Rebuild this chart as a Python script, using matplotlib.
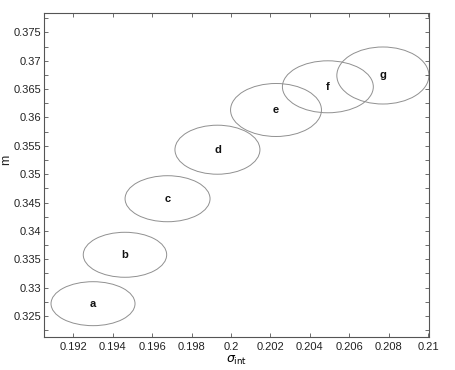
import numpy as np
import matplotlib
matplotlib.use("Agg")
import matplotlib.pyplot as plt
from matplotlib.patches import Ellipse

plt.rcParams['font.family'] = ['Liberation Sans', 'DejaVu Sans']

# confidence ellipses (center, width, height)
names = ['a', 'b', 'c', 'd', 'e', 'f', 'g']
sigma_c = [0.19300, 0.19462, 0.19678, 0.19931, 0.20228, 0.20491, 0.20770]
m_c = [0.32717, 0.33579, 0.34567, 0.35431, 0.36131, 0.36540, 0.36739]
widths = [0.00426, 0.00423, 0.00431, 0.00431, 0.00461, 0.00461, 0.00467]
heights = [0.00775, 0.00793, 0.00811, 0.00864, 0.00934, 0.00916, 0.01005]

xticks = [0.192, 0.194, 0.196, 0.198, 0.2, 0.202, 0.204, 0.206, 0.208, 0.21]
xticklabels = ['0.192', '0.194', '0.196', '0.198', '0.2', '0.202', '0.204',
               '0.206', '0.208', '0.21']
yticks = [0.325, 0.33, 0.335, 0.34, 0.345, 0.35, 0.355, 0.36, 0.365, 0.37, 0.375]
yticklabels = ['0.325', '0.33', '0.335', '0.34', '0.345', '0.35', '0.355',
               '0.36', '0.365', '0.37', '0.375']

fig = plt.figure(figsize=(4.55, 3.70), dpi=100)
ax = fig.add_axes([0.0974, 0.09, 0.8455, 0.874])

for i in range(len(names)):
    e = Ellipse((sigma_c[i], m_c[i]), widths[i], heights[i],
                fill=False, edgecolor='#909090', linewidth=0.7)
    ax.add_patch(e)
    ax.text(sigma_c[i], m_c[i], names[i], ha='center', va='center',
            fontsize=8, fontweight='bold', color='#111111')

ax.set_xlim(0.19053, 0.21004)
ax.set_ylim(0.32135, 0.37835)
ax.set_xticks(xticks)
ax.set_xticklabels(xticklabels)
ax.set_yticks(yticks)
ax.set_yticklabels(yticklabels)
ax.set_yticks(np.arange(0.3225, 0.378, 0.005), minor=True)

ax.tick_params(which='both', direction='in', top=True, right=True,
               length=3, width=0.6, color='#555555', labelsize=8,
               labelcolor='#222222')
ax.tick_params(axis='y', pad=2)
ax.tick_params(axis='x', pad=4)
for s in ax.spines.values():
    s.set_color('#555555')
    s.set_linewidth(0.8)

ax.set_xlabel(r'$\sigma_{\rm int}$', fontsize=9, labelpad=1)
fig.text(6 / 455, 1 - 160 / 370, 'm', rotation=90, fontsize=9,
         ha='center', va='center', color='#222222')

fig.savefig('out.png', dpi=100)
